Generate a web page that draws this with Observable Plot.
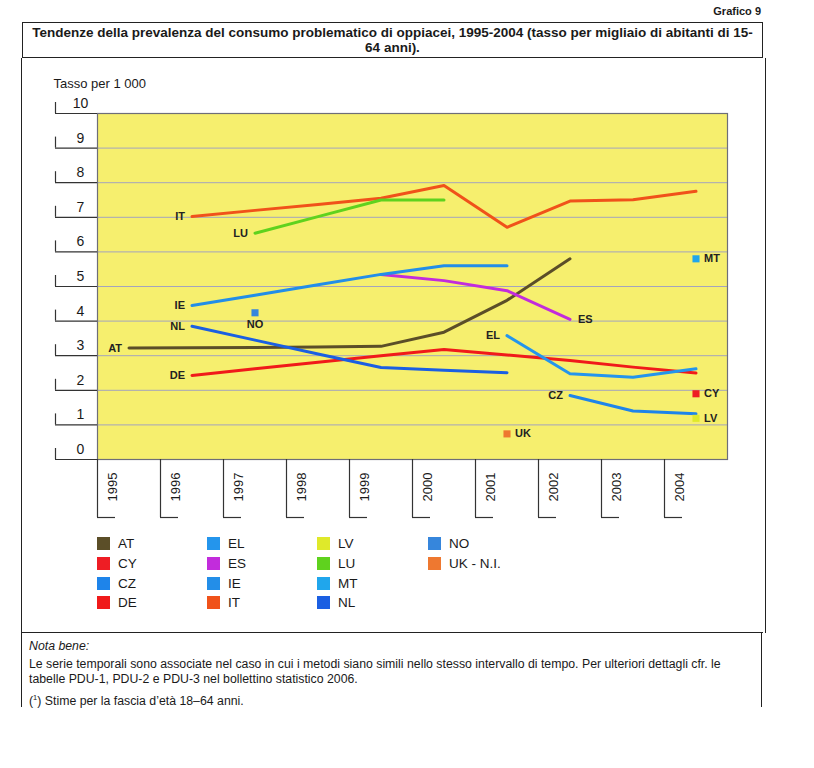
<!DOCTYPE html>
<html>
<head>
<meta charset="utf-8">
<script src="https://cdn.jsdelivr.net/npm/d3@7"></script>
<script src="https://cdn.jsdelivr.net/npm/@observablehq/plot@0.6"></script>
<style>
  body { margin: 0; background: #fff; font-family: "Liberation Sans", Arial, sans-serif; color: #1a1a1a; }
  #page { position: relative; width: 814px; height: 768px; overflow: hidden; background: #fff; }
  #chart { position: absolute; left: 0; top: 0; }
  .abs { position: absolute; }
  .hline { position: absolute; height: 0; border-top: 1.5px solid #222; }
  .vline { position: absolute; width: 0; border-left: 1.5px solid #222; }
  #grafico { left: 690px; width: 71px; top: 5px; text-align: right; font-weight: bold; font-size: 11px; }
  #title { left: 22px; top: 22px; width: 741px; height: 36px; box-sizing: border-box; border: 1.5px solid #222;
           text-align: center; font-weight: bold; font-size: 13.5px; line-height: 15px; padding-top: 2px; white-space: nowrap; }
  .legend-item { position: absolute; font-size: 13.5px; line-height: 14px; height: 14px; }
  .legend-item span.sw { position: absolute; left: 0; top: 0; width: 13px; height: 13px; }
  .legend-item span.lb { position: absolute; left: 21px; top: 0; white-space: nowrap; }
  #note { left: 29px; top: 639px; width: 730px; font-size: 12.3px; line-height: 15px; }
  #note p { margin: 0; white-space: nowrap; }
</style>
</head>
<body>
<div id="page">
  <div id="chart"></div>
  <div id="grafico" class="abs">Grafico 9</div>
  <div id="title" class="abs">Tendenze della prevalenza del consumo problematico di oppiacei, 1995-2004 (tasso per migliaio di abitanti di 15-<br>64 anni).</div>
  <div class="vline" style="left:21px; top:58px; height:649px;"></div>
  <div class="vline" style="left:765px; top:58px; height:575px;"></div>
  <div class="hline" style="left:21px; top:632px; width:742px;"></div>
  <div class="vline" style="left:761px; top:632px; height:75px;"></div>
  <div id="legend"></div>
  <div id="note" class="abs">
    <p style="font-style:italic; margin-bottom:3px;">Nota bene:</p>
    <p>Le serie temporali sono associate nel caso in cui i metodi siano simili nello stesso intervallo di tempo. Per ulteriori dettagli cfr. le</p>
    <p>tabelle PDU-1, PDU-2 e PDU-3 nel bollettino statistico 2006.</p>
    <p style="margin-top:3px;">(<sup style="font-size:7.5px;">1</sup>) Stime per la fascia d’età 18–64 anni.</p>
  </div>
</div>
<script>
// ---------- data ----------
const years = [1995, 1996, 1997, 1998, 1999, 2000, 2001, 2002, 2003, 2004];
const yTicks = [0, 1, 2, 3, 4, 5, 6, 7, 8, 9, 10];
const yAxisTitle = "Tasso per 1 000";

const AT = [3.22, 3.23, 3.24, 3.25, 3.27, 3.68, 4.60, 5.80, null, null];
const CY = [null, null, null, null, null, null, null, null, null, 1.90];
const CZ = [null, null, null, null, null, null, null, 1.85, 1.40, 1.32];
const DE = [null, 2.43, 2.62, 2.81, 3.00, 3.18, 3.02, 2.86, 2.67, 2.50];
const EL = [null, null, null, null, null, null, 3.58, 2.48, 2.38, 2.62];
const ES = [null, null, null, null, 5.35, 5.17, 4.88, 4.05, null, null];
const IE = [null, 4.45, 4.75, 5.05, 5.35, 5.60, 5.60, null, null, null];
const IT = [null, 7.02, 7.20, 7.37, 7.55, 7.92, 6.71, 7.47, 7.51, 7.75];
const LV = [null, null, null, null, null, null, null, null, null, 1.19];
const LU = [null, null, 6.54, 7.02, 7.50, 7.50, null, null, null, null];
const MT = [null, null, null, null, null, null, null, null, null, 5.80];
const NL = [null, 3.85, 3.45, 3.05, 2.66, 2.58, 2.51, null, null, null];
const NO = [null, null, 4.24, null, null, null, null, null, null, null];
const UK = [null, null, null, null, null, null, 0.74, null, null, null];

const seriesNames = ["AT", "CY", "CZ", "DE", "EL", "ES", "IE", "IT", "LV", "LU", "MT", "NL", "NO", "UK"];
const seriesValues = [AT, CY, CZ, DE, EL, ES, IE, IT, LV, LU, MT, NL, NO, UK];
const legendLabels = ["AT", "CY", "CZ", "DE", "EL", "ES", "IE", "IT", "LV", "LU", "MT", "NL", "NO", "UK - N.I."];
const seriesColors = ["#5b4e28", "#ee1d24", "#1e84ea", "#f01a1a", "#2495ec", "#c22cdc", "#238ee8",
                      "#f0521a", "#dfe92a", "#5fd21e", "#20a6ec", "#1b5fe2", "#3686dc", "#ee7830"];
// label placement (style): default lines -> left of first point, points -> right
const labelAtEnd = ["ES"];
const labelBelow = ["NO"];

// ---------- build rows ----------
const rows = seriesNames.flatMap((s, i) =>
  seriesValues[i].map((v, j) => ({series: s, year: years[j], value: v})).filter(d => d.value != null));
const counts = d3.rollup(rows, v => v.length, d => d.series);
const lineRows = rows.filter(d => counts.get(d.series) > 1);
const pointRows = rows.filter(d => counts.get(d.series) === 1);
const firstOf = Array.from(d3.group(lineRows, d => d.series), ([s, v]) => ({s, v}));
const leftLabels = firstOf.filter(g => !labelAtEnd.includes(g.s)).map(g => g.v[0]);
const rightLabels = firstOf.filter(g => labelAtEnd.includes(g.s)).map(g => g.v[g.v.length - 1])
  .concat(pointRows.filter(d => !labelBelow.includes(d.series)));
const belowLabels = pointRows.filter(d => labelBelow.includes(d.series));

const x0 = years[0] - 0.5, x1 = years[years.length - 1] + 0.5;
const bounds = years.map(y => y - 0.5);
const gridVals = yTicks.slice(1, -1);

const W = 814, H = 530;
const mL = 97, mR = 87, mT = 113, mB = 71;
const pxPerX = (W - mL - mR) / (x1 - x0);
const pxPerY = (H - mT - mB) / 10;

const plot = Plot.plot({
  width: W, height: H,
  marginLeft: mL, marginRight: mR, marginTop: mT, marginBottom: mB,
  style: {background: "transparent", fontFamily: "Liberation Sans, Arial, sans-serif", color: "#1a1a1a"},
  x: {domain: [x0, x1], axis: null},
  y: {domain: [0, 10], axis: null},
  color: {domain: seriesNames, range: seriesColors},
  marks: [
    Plot.frame({fill: "#f6ef6e", stroke: "none"}),
    Plot.ruleY(gridVals, {stroke: "#a4a4bc", strokeWidth: 1}),
    Plot.frame({stroke: "#6e6e78", strokeWidth: 1.2}),
    // y-axis L-shaped ticks
    Plot.ruleY(yTicks, {y: d => d, x1: () => x0 - 42 / pxPerX, x2: () => x0, stroke: "#333", strokeWidth: 1.2}),
    Plot.ruleX(yTicks, {x: () => x0 - 42 / pxPerX, y1: d => d, y2: d => d + 11 / pxPerY, stroke: "#333", strokeWidth: 1.2}),
    Plot.text(yTicks, {x: () => x0, y: d => d, text: d => String(d), dx: -17, dy: -10, fontSize: 14, fill: "#1a1a1a"}),
    Plot.text([yAxisTitle], {x: () => x0, y: () => 10, text: d => d, dx: -44, dy: -30, textAnchor: "start", fontSize: 13, fill: "#1a1a1a"}),
    // x-axis L-shaped ticks
    Plot.ruleX(bounds, {x: d => d, y1: () => 0, y2: () => -58 / pxPerY, stroke: "#333", strokeWidth: 1.2}),
    Plot.ruleY(bounds, {y: () => -58 / pxPerY, x1: d => d, x2: d => d + 18 / pxPerX, stroke: "#333", strokeWidth: 1.2}),
    Plot.text(years, {x: d => d - 0.5, y: () => 0, text: d => String(d), rotate: -90, textAnchor: "end",
                      dx: 15, dy: 13, fontSize: 13, fill: "#1a1a1a"}),
    // data
    Plot.line(lineRows, {x: "year", y: "value", z: "series", stroke: "series", strokeWidth: 3, strokeLinejoin: "round"}),
    Plot.dot(pointRows, {x: "year", y: "value", fill: "series", symbol: "square", r: 4}),
    Plot.text(leftLabels, {x: "year", y: "value", text: "series", textAnchor: "end", dx: -7, fontSize: 11, fontWeight: "bold", fill: "#222"}),
    Plot.text(rightLabels, {x: "year", y: "value", text: "series", textAnchor: "start", dx: 8, fontSize: 11, fontWeight: "bold", fill: "#222"}),
    Plot.text(belowLabels, {x: "year", y: "value", text: "series", textAnchor: "middle", dy: 12, fontSize: 11, fontWeight: "bold", fill: "#222"})
  ]
});
document.getElementById("chart").appendChild(plot);

// ---------- legend (HTML) ----------
const legend = document.getElementById("legend");
const colLeft = [97, 207, 317, 428];
const rowTop = [537, 557, 577, 596];
legendLabels.forEach((lab, i) => {
  const col = Math.floor(i / 4), row = i % 4;
  const el = document.createElement("div");
  el.className = "legend-item";
  el.style.left = colLeft[col] + "px";
  el.style.top = rowTop[row] + "px";
  el.innerHTML = `<span class="sw" style="background:${seriesColors[i]}"></span><span class="lb">${lab}</span>`;
  legend.appendChild(el);
});
</script>
</body>
</html>
